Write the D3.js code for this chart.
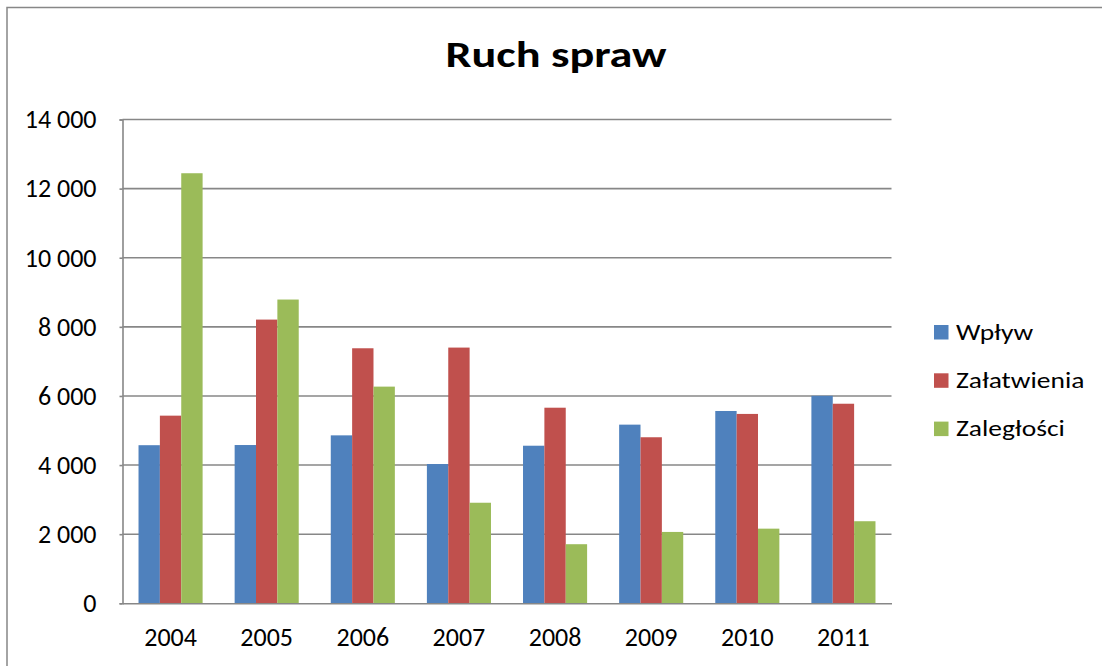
<!DOCTYPE html>
<html>
<head>
<meta charset="utf-8">
<script src="https://cdn.jsdelivr.net/npm/d3@7"></script>
<style>
  html, body { margin: 0; padding: 0; background: #fff; }
  svg { display: block; font-family: Carlito, Lato, "Open Sans", sans-serif; }
</style>
</head>
<body>
<svg id="chart" width="1102" height="666"></svg>
<script>
// Years on the category axis
const years = ["2004", "2005", "2006", "2007", "2008", "2009", "2010", "2011"];
// Series names
const seriesNames = ["Wpływ", "Załatwienia", "Zaległości"];
// Case counts per year
const wplyw       = [4575, 4580, 4860, 4030, 4560, 5170, 5565, 6005];
const zalatwienia = [5430, 8210, 7380, 7400, 5660, 4805, 5480, 5775];
const zaleglosci  = [12445, 8790, 6270, 2910, 1710, 2065, 2160, 2375];
// Value axis ticks
const yTicks = [0, 2000, 4000, 6000, 8000, 10000, 12000, 14000];
const colors = ["#4F81BD", "#C0504D", "#9BBB59"];

const series = [wplyw, zalatwienia, zaleglosci];
const rows = years.map((y, i) => ({ year: y, values: series.map(s => s[i]) }));

const svg = d3.select("#chart");
const plotLeft = 122.5, plotRight = 891.5, plotTop = 119.5, plotBottom = 603.3;
const axisGrey = "#878787";

// Outer chart frame (runs off the right and bottom edges)
svg.append("rect")
  .attr("x", 7).attr("y", 7.5)
  .attr("width", 1110).attr("height", 680)
  .attr("fill", "#fff").attr("stroke", axisGrey).attr("stroke-width", 1.5);

const x0 = d3.scaleBand().domain(years).range([plotLeft, plotRight]).padding(0);
const bw = x0.bandwidth();
const x1 = d3.scaleBand().domain(d3.range(seriesNames.length)).range([bw / 6, bw * 5 / 6]).padding(0);
const y = d3.scaleLinear().domain([0, 14000]).range([plotBottom, plotTop]);

// Horizontal gridlines
svg.append("g")
  .selectAll("line")
  .data(yTicks.filter(t => t > 0))
  .join("line")
  .attr("x1", plotLeft).attr("x2", plotRight)
  .attr("y1", d => y(d)).attr("y2", d => y(d))
  .attr("stroke", axisGrey).attr("stroke-width", 1.6);

// Bars
svg.append("g")
  .selectAll("g")
  .data(rows)
  .join("g")
  .attr("transform", d => `translate(${x0(d.year)},0)`)
  .selectAll("rect")
  .data(d => d.values.map((v, k) => ({ v, k })))
  .join("rect")
  .attr("x", d => x1(d.k))
  .attr("width", x1.bandwidth())
  .attr("y", d => y(d.v))
  .attr("height", d => y(0) - y(d.v))
  .attr("fill", d => colors[d.k]);

// Value axis
const fmt = v => d3.format(",")(v).replace(/,/g, " ");
const yAxis = svg.append("g")
  .attr("transform", `translate(${plotLeft},0)`)
  .call(d3.axisLeft(y).tickValues(yTicks).tickFormat(fmt).tickSize(3).tickPadding(23));
yAxis.select(".domain").attr("stroke", axisGrey).attr("stroke-width", 1.6);
yAxis.selectAll(".tick line").attr("stroke", axisGrey).attr("stroke-width", 1.6);
yAxis.selectAll("text").attr("font-size", 26).attr("fill", "#000")
  .attr("font-family", "Carlito, Lato, sans-serif");

// Category axis
const xAxis = svg.append("g")
  .attr("transform", `translate(0,${plotBottom})`)
  .call(d3.axisBottom(x0).tickSize(0).tickPadding(24));
xAxis.select(".domain").attr("stroke", axisGrey).attr("stroke-width", 1.6);
xAxis.selectAll("text").attr("font-size", 26).attr("fill", "#000")
  .attr("font-family", "Carlito, Lato, sans-serif");

// Title (set wide)
svg.append("text")
  .attr("transform", "translate(556,67) scale(1.25,1)")
  .attr("text-anchor", "middle")
  .attr("font-size", 37).attr("font-weight", "bold")
  .text("Ruch spraw");

// Legend
const legend = svg.append("g")
  .selectAll("g")
  .data(seriesNames)
  .join("g")
  .attr("transform", (d, i) => `translate(934,${325 + i * 48.3})`);
legend.append("rect").attr("width", 14.5).attr("height", 14.5).attr("fill", (d, i) => colors[i]);
legend.append("text")
  .attr("transform", "translate(22,14.5) scale(1.25,1)")
  .attr("font-size", 22)
  .text(d => d);
</script>
</body>
</html>
